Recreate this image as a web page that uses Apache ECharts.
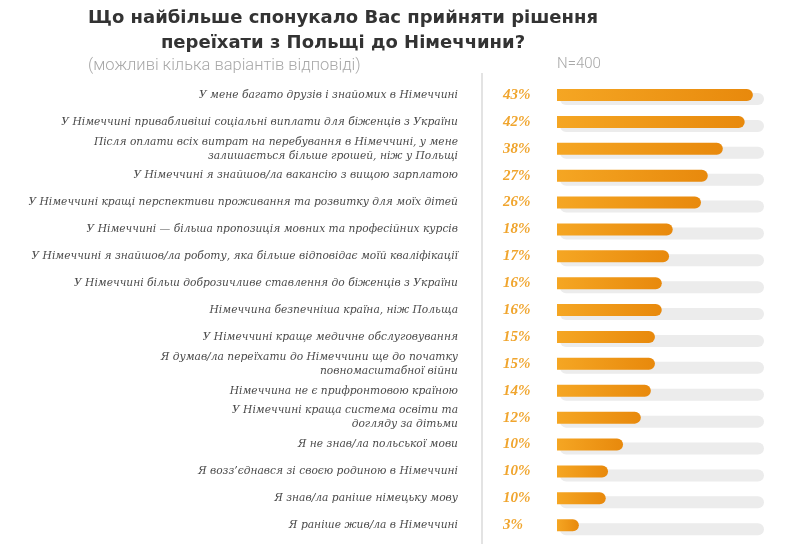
<!DOCTYPE html>
<html><head><meta charset="utf-8">
<script src="https://cdn.jsdelivr.net/npm/echarts@6/dist/echarts.min.js"></script>
<style>html,body{margin:0;padding:0;background:#fff}#c{width:800px;height:544px}</style>
</head><body><div id="c"></div>
<script>
const categories = [
  "У мене багато друзів і знайомих в Німеччині",
  "У Німеччині привабливіші соціальні виплати для біженців з України",
  "Після оплати всіх витрат на перебування в Німеччині, у мене\nзалишається більше грошей, ніж у Польщі",
  "У Німеччині я знайшов/ла вакансію з вищою зарплатою",
  "У Німеччині кращі перспективи проживання та розвитку для моїх дітей",
  "У Німеччині — більша пропозиція мовних та професійних курсів",
  "У Німеччині я знайшов/ла роботу, яка більше відповідає моїй кваліфікації",
  "У Німеччині більш доброзичливе ставлення до біженців з України",
  "Німеччина безпечніша країна, ніж Польща",
  "У Німеччині краще медичне обслуговування",
  "Я думав/ла переїхати до Німеччини ще до початку\nповномасштабної війни",
  "Німеччина не є прифронтовою країною",
  "У Німеччині краща система освіти та\nдогляду за дітьми",
  "Я не знав/ла польської мови",
  "Я возз’єднався зі своєю родиною в Німеччині",
  "Я знав/ла раніше німецьку мову",
  "Я раніше жив/ла в Німеччині"
];
// printed percentages
const percentLabels = ["43%","42%","38%","27%","26%","18%","17%","16%","16%","15%","15%","14%","12%","10%","10%","10%","3%"];
// bar lengths as drawn in the picture (same scale, 0–45)
const barValues = [43, 41.2, 36.4, 33.1, 31.6, 25.4, 24.6, 23.0, 23.0, 21.5, 21.5, 20.6, 18.4, 14.5, 11.2, 10.7, 4.8];
const axisMax = 45;
const trackValues = categories.map(() => axisMax);

const chart = echarts.init(document.getElementById('c'));
chart.setOption({
  animation: false,
  title: [
    { text: "Що найбільше спонукало Вас прийняти рішення\nпереїхати з Польщі до Німеччини?", left: 338, top: 1, textAlign: 'center',
      textStyle: { fontFamily: 'DejaVu Sans', fontWeight: 'bold', fontSize: 18, color: '#333', lineHeight: 25 } },
    { text: "(можливі кілька варіантів відповіді)", left: 83, top: 52,
      textStyle: { fontFamily: 'Roboto', fontWeight: 300, fontSize: 16.5, color: '#a8a8a8' } },
    { text: "N=400", left: 552, top: 52,
      textStyle: { fontFamily: 'Roboto', fontWeight: 300, fontSize: 15, color: '#a8a8a8' } }
  ],
  graphic: [
    { type: 'line', shape: { x1: 482, y1: 73, x2: 482, y2: 544 }, style: { stroke: '#e3e3e3', lineWidth: 2 } }
  ],
  grid: [
    { left: 557, top: 81.6, width: 205, height: 457, outerBoundsMode: 'none', containLabel: false },
    { left: 560, top: 85.6, width: 204, height: 457, outerBoundsMode: 'none', containLabel: false }
  ],
  xAxis: [
    { gridIndex: 0, type: 'value', min: 0, max: axisMax, show: false },
    { gridIndex: 1, type: 'value', min: 0, max: axisMax, show: false }
  ],
  yAxis: [
    { gridIndex: 0, type: 'category', data: categories, inverse: true,
      axisLine: { show: false }, axisTick: { show: false },
      axisLabel: { margin: 99, fontFamily: 'DejaVu Serif', fontStyle: 'italic', fontSize: 10.7, color: '#4a4a4a', lineHeight: 14, align: 'right' } },
    { gridIndex: 1, type: 'category', data: categories, inverse: true, show: false }
  ],
  series: [
    { type: 'bar', xAxisIndex: 1, yAxisIndex: 1, data: trackValues, barWidth: 12, z: 1, silent: true,
      itemStyle: { color: '#ececec', borderRadius: 6 } },
    { type: 'bar', xAxisIndex: 0, yAxisIndex: 0, data: barValues, barWidth: 12, z: 3,
      itemStyle: { borderRadius: [0, 6, 6, 0],
        color: new echarts.graphic.LinearGradient(0, 0, 1, 0, [{ offset: 0, color: '#f5a623' }, { offset: 1, color: '#e8890c' }]) },
      label: { show: true, position: [-54, '50%'], align: 'left', verticalAlign: 'middle',
        formatter: p => percentLabels[p.dataIndex],
        fontFamily: 'Liberation Serif', fontStyle: 'italic', fontWeight: 'bold', fontSize: 15, color: '#f0a52e' } }
  ]
});
</script></body></html>
